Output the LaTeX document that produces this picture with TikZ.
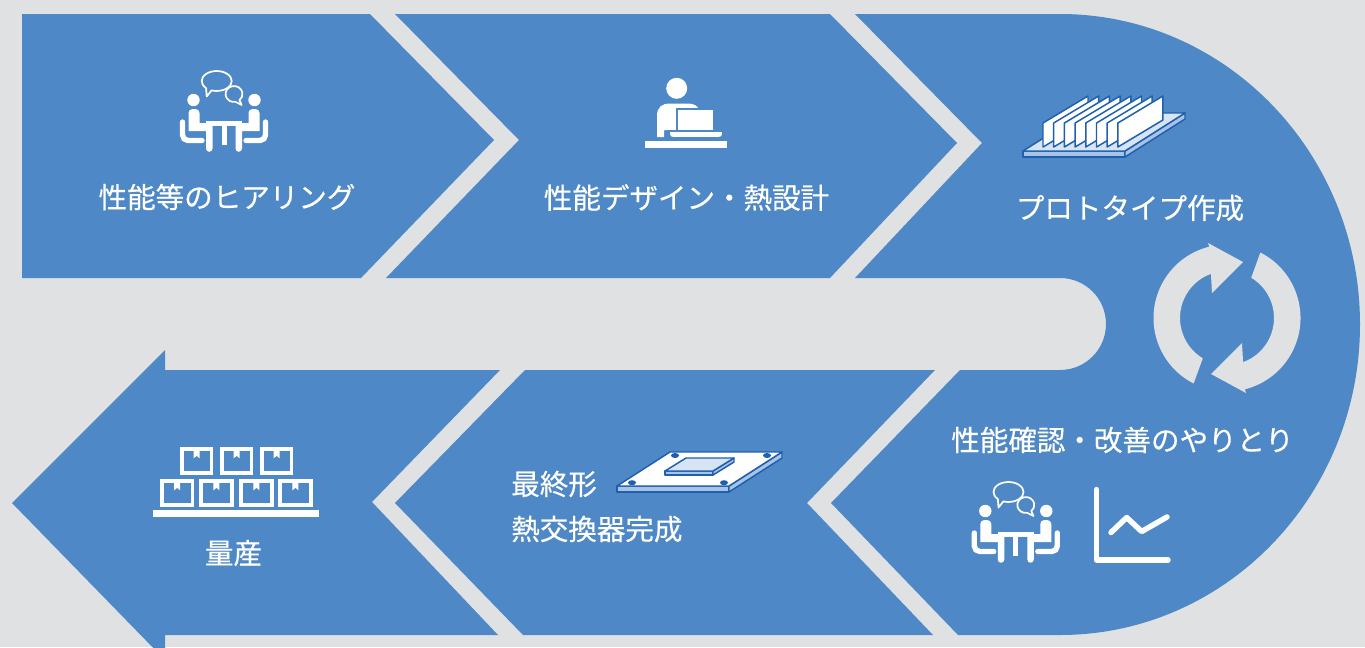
\documentclass[tikz,border=0pt]{standalone}
\usepackage{fontspec}
\newfontfamily\jpfont[FakeBold=0.4]{Noto Sans CJK JP}
\usetikzlibrary{calc}

\definecolor{bgray}{HTML}{E0E1E3}
\definecolor{pblue}{HTML}{4E88C6}
\definecolor{dblue}{HTML}{1E60AE}
\definecolor{lblue}{HTML}{D7E4F5}
\definecolor{mblue}{HTML}{A9C3E6}

\tikzset{
  panel/.style={fill=pblue},
  steptext/.style={text=white, inner sep=0pt, font=\jpfont\fontsize{21.4pt}{26pt}\selectfont},
  edge3d/.style={draw=dblue, line width=1.1pt, line join=round},
  bubble/.style={draw=white, fill=pblue, line width=1.3pt, line join=round},
  chartline/.style={white, line width=4.1pt, line cap=round, line join=round},
  meeting/.pic={
    % speech bubbles (the rear one first)
    \draw[bubble] (10,-6) ++(80:8.5 and 8) arc[start angle=80, end angle=410, x radius=8.5, y radius=8] -- (17.7,5) -- cycle;
    \draw[bubble] (-7.3,-19) ++(135:15 and 10) arc[start angle=135, end angle=470, x radius=15, y radius=10] -- (-17.3,-3.5) -- cycle;
    % heads
    \fill[white] (-30.5,0) circle (6.2);
    \fill[white] (30.5,0) circle (6.2);
    % seated people and chairs, mirrored
    \foreach \s in {1,-1} {
      \begin{scope}[xscale=\s]
        \fill[white] (-35.5,31) -- (-35.5,13) arc[start angle=180, end angle=270, radius=4]
          -- (-28.5,9) arc[start angle=270, end angle=360, radius=4]
          -- (-24.5,23) -- (-11.5,23) -- (-11.5,48.5)
          arc[start angle=0, end angle=180, radius=3.25]
          -- (-18,31) -- cycle;
        \draw[white, line width=4pt, line cap=round] (-41.5,22) -- (-41.5,35)
          arc[start angle=180, end angle=90, radius=5.5] -- (-22,40.5);
      \end{scope}
    }
    % table
    \fill[white] (-18,20.5) rectangle (18,26);
    \fill[white] (-2.5,26) rectangle (2.5,45);
  }
}

\newcommand\DrawCrate[4]{%
  \draw[white, line width=2.8pt] (#1+1.85,#2+1.85) rectangle (#1+#3-1.85,#2+#4-1.85);
  \fill[white] (#1+#3/2-3,#2+2) -- ++(6,0) -- ++(0,9) -- ++(-3,-2.5) -- ++(-3,2.5) -- cycle;
}

\begin{document}
\begin{tikzpicture}[x=0.75pt,y=-0.75pt]
\useasboundingbox (0,0) rectangle (1365,647);
\clip (0,0) rectangle (1365,647);
\fill[bgray] (0,0) rectangle (1365,647);

% ---- process panels ----
\fill[panel] (22,14) -- (370,14) -- (494,140) -- (361,278) -- (22,278) -- cycle;
\fill[panel] (395,14) -- (830,14) -- (957,143) -- (830,278) -- (386,278) -- (519,140) -- cycle;
\fill[panel] (855,14) -- (1060,14)
  arc[start angle=-90, end angle=90, x radius=300, y radius=310.5]
  -- (958,635) -- (831,503) -- (960,370) -- (1060,370)
  arc[start angle=90, end angle=-90, radius=46]
  -- (855,278) -- (982,143) -- cycle;
\fill[panel] (525,370) -- (935,370) -- (807,503) -- (933,635) -- (523,635) -- (395,503) -- cycle;
\fill[panel] (12,503) -- (165,350) -- (165,370) -- (500,370) -- (372,502) -- (498,635)
  -- (165,635) -- (165,660) -- cycle;

% ---- hearing: meeting icon ----
\pic at (224,100) {meeting};

% ---- design: person at a laptop ----
\fill[white] (676.7,88.3) circle (10.5);
\fill[white] (657,137) -- (657,116) .. controls (657,107) and (662,103.5) .. (670,103.5)
  -- (688,103.5) .. controls (694,103.5) and (698,106) .. (699,110) -- (699,130)
  -- (664,130) -- (664,137) -- cycle;
\filldraw[fill=white, draw=pblue, line width=1.5pt] (677,109) rectangle (714,134);
\filldraw[fill=white, draw=pblue, line width=1.2pt] (669,131) -- (723,131) -- (723,134)
  .. controls (723,136.5) and (721,137.8) .. (719,137.8) -- (673,137.8)
  .. controls (671,137.8) and (669,136.5) .. (669,134) -- cycle;
\fill[white] (645,141) rectangle (726.7,148);

% ---- prototype: finned heat sink ----
\filldraw[edge3d, fill=mblue] (1023,151) -- (1125,151) -- (1125,157) -- (1023,157) -- cycle;
\filldraw[edge3d, fill=mblue] (1125,151) -- (1185,113) -- (1185,119) -- (1125,157) -- cycle;
\filldraw[edge3d, fill=lblue] (1023,151) -- (1125,151) -- (1185,113) -- (1083,113) -- cycle;
\foreach \i in {0,...,7} {
  \filldraw[edge3d, fill=white] ({1043+10.7*\i},147) -- ++(0,-24) -- ++(45,-27) -- ++(0,24) -- cycle;
}

% ---- iteration: circular arrows ----
\coordinate (rc) at (1227,318);
\foreach \r in {0,180} {
  \begin{scope}[rotate around={\r:(rc)}]
    \fill[bgray] ($(rc)+(117:73.5)$) arc[start angle=117, end angle=256, radius=73.5]
      -- (1208,243) -- (1243,262) -- (1212,293)
      -- ($(rc)+(250:47)$) arc[start angle=250, end angle=121, radius=47] -- cycle;
  \end{scope}
}

% ---- evaluation: meeting and chart ----
\pic at (1015.8,511) {meeting};
\draw[chartline] (1096.5,489.5) -- (1096.5,560) -- (1168,560);
\draw[chartline] (1111,532.5) -- (1126.7,517.5) -- (1141.7,531.5) -- (1167,517);

% ---- final product: base plate with chip ----
\filldraw[edge3d, fill=mblue] (617,486) -- (729,486) -- (729,492) -- (617,492) -- cycle;
\filldraw[edge3d, fill=mblue] (729,486) -- (782,452) -- (782,458) -- (729,492) -- cycle;
\filldraw[edge3d, fill=white] (617,486) -- (729,486) -- (782,452) -- (670,452) -- cycle;
\foreach \hx/\hy in {675/455.5, 767/455.5, 632/482.7, 724/482.7} {
  \fill[dblue] (\hx,\hy) ellipse [x radius=4, y radius=2.5];
}
\filldraw[edge3d, fill=mblue] (665,471) -- (713,471) -- (713,475) -- (665,475) -- cycle;
\filldraw[edge3d, fill=mblue] (713,471) -- (734,458) -- (734,462) -- (713,475) -- cycle;
\filldraw[edge3d, fill=lblue] (665,471) -- (713,471) -- (734,458) -- (686,458) -- cycle;

% ---- mass production: stacked crates ----
\foreach \bx in {180,220,260} { \DrawCrate{\bx}{447.3}{33.3}{27.7} }
\foreach \bx in {160,199.3,239.3,278.3} { \DrawCrate{\bx}{479.3}{34.3}{27.4} }
\fill[white] (153.3,510) rectangle (319.3,516.7);

% ---- step captions ----
\node[steptext] (t1) at (227,197) {性能等のヒアリング};
\node[steptext] (t2) at (686.5,197.5) {性能デザイン・熱設計};
\node[steptext] (t3) at (1130,208) {プロトタイプ作成};
\node[steptext] (t4) at (1122.5,440) {性能確認・改善のやりとり};
\node[steptext, anchor=west] (t5) at (511,484) {最終形};
\node[steptext, anchor=west] (t6) at (511,529) {熱交換器完成};
\node[steptext] (t7) at (233.5,553) {量産};
\end{tikzpicture}
\end{document}
